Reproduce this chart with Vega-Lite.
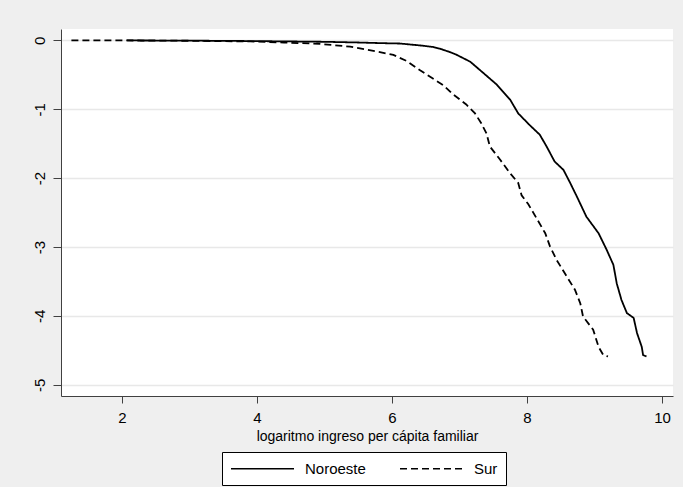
{
  "$schema": "https://vega.github.io/schema/vega-lite/v6.json",
  "width": 612,
  "height": 367,
  "autosize": {"type": "none"},
  "padding": {"left": 61, "top": 29, "right": 10, "bottom": 91},
  "background": "#EFEFEF",
  "config": {
    "view": {"fill": "white", "stroke": null},
    "font": "Liberation Sans, Arial"
  },
  "data": {
    "values": [
      {"serie": "Noroeste", "x": 2.07, "y": 0},
      {"serie": "Noroeste", "x": 3.0, "y": -0.003},
      {"serie": "Noroeste", "x": 4.0, "y": -0.01},
      {"serie": "Noroeste", "x": 5.0, "y": -0.02},
      {"serie": "Noroeste", "x": 5.5, "y": -0.03},
      {"serie": "Noroeste", "x": 5.87, "y": -0.04},
      {"serie": "Noroeste", "x": 6.12, "y": -0.045},
      {"serie": "Noroeste", "x": 6.46, "y": -0.077},
      {"serie": "Noroeste", "x": 6.61, "y": -0.095},
      {"serie": "Noroeste", "x": 6.71, "y": -0.12},
      {"serie": "Noroeste", "x": 6.86, "y": -0.17},
      {"serie": "Noroeste", "x": 6.96, "y": -0.21},
      {"serie": "Noroeste", "x": 7.16, "y": -0.31},
      {"serie": "Noroeste", "x": 7.35, "y": -0.47},
      {"serie": "Noroeste", "x": 7.55, "y": -0.64},
      {"serie": "Noroeste", "x": 7.75, "y": -0.86},
      {"serie": "Noroeste", "x": 7.87, "y": -1.06},
      {"serie": "Noroeste", "x": 8.04, "y": -1.23},
      {"serie": "Noroeste", "x": 8.19, "y": -1.37},
      {"serie": "Noroeste", "x": 8.29, "y": -1.54},
      {"serie": "Noroeste", "x": 8.41, "y": -1.76},
      {"serie": "Noroeste", "x": 8.54, "y": -1.88},
      {"serie": "Noroeste", "x": 8.64, "y": -2.07},
      {"serie": "Noroeste", "x": 8.74, "y": -2.27},
      {"serie": "Noroeste", "x": 8.88, "y": -2.56},
      {"serie": "Noroeste", "x": 9.06, "y": -2.8},
      {"serie": "Noroeste", "x": 9.18, "y": -3.04},
      {"serie": "Noroeste", "x": 9.28, "y": -3.26},
      {"serie": "Noroeste", "x": 9.33, "y": -3.53},
      {"serie": "Noroeste", "x": 9.4, "y": -3.77},
      {"serie": "Noroeste", "x": 9.48, "y": -3.96},
      {"serie": "Noroeste", "x": 9.58, "y": -4.03},
      {"serie": "Noroeste", "x": 9.63, "y": -4.25},
      {"serie": "Noroeste", "x": 9.7, "y": -4.45},
      {"serie": "Noroeste", "x": 9.72, "y": -4.57},
      {"serie": "Noroeste", "x": 9.77, "y": -4.59},
      {"serie": "Sur", "x": 1.25, "y": 0},
      {"serie": "Sur", "x": 2.0, "y": 0},
      {"serie": "Sur", "x": 3.0, "y": -0.005},
      {"serie": "Sur", "x": 3.5, "y": -0.01},
      {"serie": "Sur", "x": 3.9, "y": -0.015},
      {"serie": "Sur", "x": 4.4, "y": -0.03},
      {"serie": "Sur", "x": 4.93, "y": -0.05},
      {"serie": "Sur", "x": 5.38, "y": -0.09},
      {"serie": "Sur", "x": 5.77, "y": -0.16},
      {"serie": "Sur", "x": 6.02, "y": -0.21},
      {"serie": "Sur", "x": 6.22, "y": -0.3},
      {"serie": "Sur", "x": 6.41, "y": -0.43},
      {"serie": "Sur", "x": 6.6, "y": -0.55},
      {"serie": "Sur", "x": 6.76, "y": -0.65},
      {"serie": "Sur", "x": 6.9, "y": -0.78},
      {"serie": "Sur", "x": 7.1, "y": -0.93},
      {"serie": "Sur", "x": 7.23, "y": -1.06},
      {"serie": "Sur", "x": 7.32, "y": -1.2},
      {"serie": "Sur", "x": 7.4, "y": -1.35},
      {"serie": "Sur", "x": 7.45, "y": -1.54},
      {"serie": "Sur", "x": 7.6, "y": -1.73},
      {"serie": "Sur", "x": 7.75, "y": -1.93},
      {"serie": "Sur", "x": 7.87, "y": -2.07},
      {"serie": "Sur", "x": 7.92, "y": -2.25},
      {"serie": "Sur", "x": 8.02, "y": -2.38},
      {"serie": "Sur", "x": 8.14, "y": -2.58},
      {"serie": "Sur", "x": 8.27, "y": -2.8},
      {"serie": "Sur", "x": 8.34, "y": -2.99},
      {"serie": "Sur", "x": 8.44, "y": -3.19},
      {"serie": "Sur", "x": 8.59, "y": -3.43},
      {"serie": "Sur", "x": 8.71, "y": -3.62},
      {"serie": "Sur", "x": 8.79, "y": -3.82},
      {"serie": "Sur", "x": 8.83, "y": -4.01},
      {"serie": "Sur", "x": 8.98, "y": -4.2},
      {"serie": "Sur", "x": 9.06, "y": -4.45},
      {"serie": "Sur", "x": 9.13, "y": -4.57},
      {"serie": "Sur", "x": 9.2, "y": -4.59}
    ]
  },
  "mark": {"type": "line", "color": "black", "strokeWidth": 1.8, "interpolate": "linear"},
  "encoding": {
    "x": {
      "field": "x", "type": "quantitative",
      "scale": {"domain": [1.096, 10.163], "nice": false, "zero": false},
      "axis": {
        "values": [2, 4, 6, 8, 10],
        "title": "logaritmo ingreso per cápita familiar",
        "titleFontSize": 14, "titleFontWeight": "normal", "titleColor": "black",
        "titlePadding": 4,
        "labelFontSize": 15, "labelColor": "black", "labelPadding": 7,
        "tickSize": 7, "tickColor": "#404040", "domainColor": "#404040",
        "grid": false, "labelFlush": false
      }
    },
    "y": {
      "field": "y", "type": "quantitative",
      "scale": {"domain": [-5.164, 0.166], "nice": false, "zero": false},
      "axis": {
        "values": [0, -1, -2, -3, -4, -5],
        "labelExpr": "'' + datum.value",
        "title": null,
        "labelAngle": -90, "labelAlign": "center", "labelBaseline": "alphabetic",
        "labelFontSize": 15, "labelColor": "black", "labelPadding": 9,
        "tickSize": 8, "tickColor": "#404040", "domainColor": "#404040",
        "grid": true, "gridColor": "#E8E8E8", "gridWidth": 1.5,
        "labelFlush": false
      }
    },
    "strokeDash": {
      "field": "serie", "type": "nominal",
      "scale": {"domain": ["Noroeste", "Sur"], "range": [[1, 0], [7, 4]]},
      "legend": {
        "title": null,
        "orient": "none",
        "legendX": 161,
        "legendY": 423,
        "direction": "horizontal",
        "symbolType": "M-4.2,0H4.2",
        "symbolSize": 225,
        "symbolOffset": 24,
        "symbolStrokeColor": "black",
        "symbolStrokeWidth": 1.5,
        "labelFontSize": 15,
        "labelColor": "black",
        "labelOffset": 34,
        "columnPadding": 31,
        "padding": 8,
        "strokeColor": "black",
        "fillColor": "white"
      }
    }
  }
}
